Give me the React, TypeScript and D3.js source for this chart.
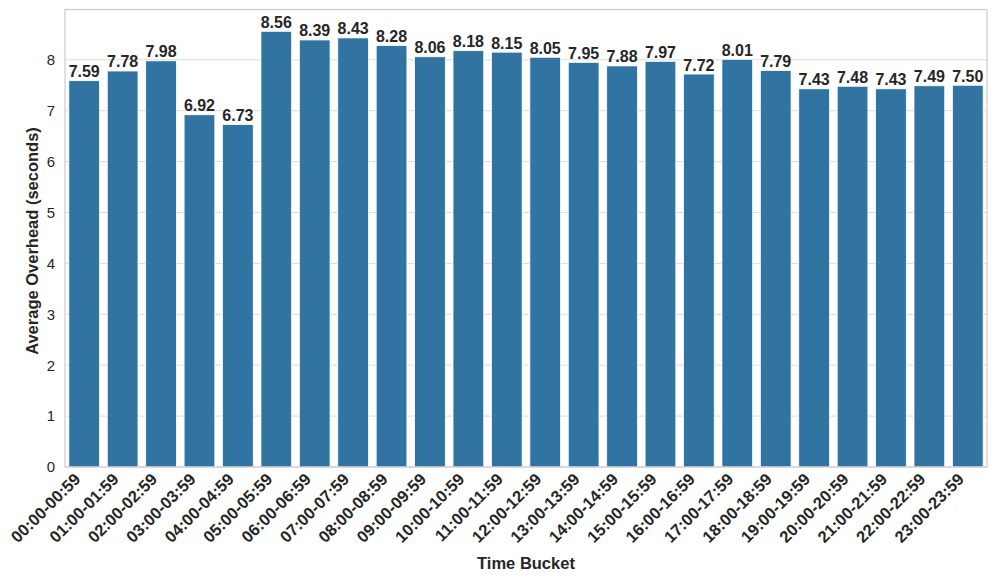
import React from "react";
import * as d3 from "d3";

const categories = [
  "00:00-00:59","01:00-01:59","02:00-02:59","03:00-03:59","04:00-04:59","05:00-05:59",
  "06:00-06:59","07:00-07:59","08:00-08:59","09:00-09:59","10:00-10:59","11:00-11:59",
  "12:00-12:59","13:00-13:59","14:00-14:59","15:00-15:59","16:00-16:59","17:00-17:59",
  "18:00-18:59","19:00-19:59","20:00-20:59","21:00-21:59","22:00-22:59","23:00-23:59",
];
const values = [
  7.59, 7.78, 7.98, 6.92, 6.73, 8.56, 8.39, 8.43, 8.28, 8.06, 8.18, 8.15,
  8.05, 7.95, 7.88, 7.97, 7.72, 8.01, 7.79, 7.43, 7.48, 7.43, 7.49, 7.50,
];
const yTicks = [0, 1, 2, 3, 4, 5, 6, 7, 8];

const W = 997, H = 582;
const L = 65, R = 987, T = 9.5, B = 467;
const FONT = "'Liberation Sans', Arial, Helvetica, sans-serif";
const TXT = "#262626";

export default function App() {
  const x = d3.scaleBand<string>().domain(categories).range([L, R]).paddingInner(0.2).paddingOuter(0.1);
  const ymax = d3.max(values)! * 1.05;
  const y = d3.scaleLinear().domain([0, ymax]).range([B, T]);
  return (
    <svg width={W} height={H} style={{ position: "absolute", left: 0, top: 0, fontFamily: FONT }}>
      <rect x={0} y={0} width={W} height={H} fill="#fff" />
      {yTicks.map((t) => (
        <g key={t}>
          <line x1={L} x2={R} y1={y(t)} y2={y(t)} stroke="#dcdcdc" strokeWidth={1} />
          <text x={L - 10} y={y(t)} dy="0.36em" textAnchor="end" fontSize={15} fill={TXT}>{t}</text>
        </g>
      ))}
      {categories.map((c, i) => {
        const bx = x(c)!;
        const bw = x.bandwidth();
        const v = values[i];
        return (
          <g key={c}>
            <rect x={bx} y={y(v)} width={bw} height={B - y(v)} fill="#3274a1" stroke="#ffffff" strokeWidth={0.8} />
            <text x={bx + bw / 2} y={y(v) - 3.5} textAnchor="middle" fontSize={16} fontWeight="bold" fill={TXT}>{v.toFixed(2)}</text>
            <text
              transform={`translate(${bx + bw / 2 - 11},${B + 5}) rotate(-45)`}
              textAnchor="end"
              dy="0.7em"
              fontSize={16.5}
              fontWeight="bold"
              fill={TXT}
            >{c}</text>
          </g>
        );
      })}
      <rect x={L} y={T} width={R - L} height={B - T} fill="none" stroke="#cccccc" strokeWidth={1.2} />
      <text x={(L + R) / 2} y={569} textAnchor="middle" fontSize={16.5} fontWeight="bold" fill={TXT}>Time Bucket</text>
      <text transform={`translate(38,241) rotate(-90)`} textAnchor="middle" fontSize={16.5} fontWeight="bold" fill={TXT}>Average Overhead (seconds)</text>
    </svg>
  );
}
